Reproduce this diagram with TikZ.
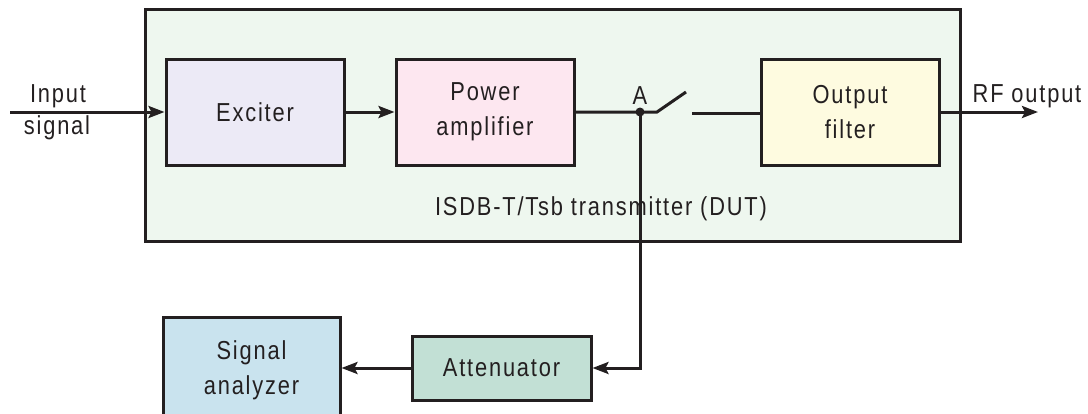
\documentclass[tikz,border=0pt]{standalone}
\usepackage{fontspec}
\setmainfont{Liberation Sans}[FakeStretch=0.84,LetterSpace=7]
\usetikzlibrary{arrows.meta,calc}
\definecolor{ink}{HTML}{231F20}
\definecolor{dutfill}{HTML}{EEF7EF}
\definecolor{excfill}{HTML}{ECEAF6}
\definecolor{pafill}{HTML}{FDE7F0}
\definecolor{offill}{HTML}{FEFBE0}
\definecolor{safill}{HTML}{C9E3EE}
\definecolor{attfill}{HTML}{C2E0D5}
\tikzset{
  blk/.style={draw=ink,line width=3pt,inner sep=0pt,align=center,text=ink,
    font=\fontsize{26}{35}\selectfont},
  lbl/.style={text=ink,inner sep=0pt,anchor=base,font=\fontsize{26}{35}\selectfont},
  wire/.style={draw=ink,line width=3pt},
  arr/.style={wire,-{Stealth[length=16pt,width=12pt,inset=3pt]}},
}
\begin{document}
\begin{tikzpicture}[x=1pt,y=-1pt]
\useasboundingbox (0,0) rectangle (1088,413);
\clip (0,0) rectangle (1088,413);
% outer DUT box
\node[draw=ink,fill=dutfill,line width=3pt,minimum width=815pt,minimum height=232pt,inner sep=0pt] (dut) at (552.5,125) {};
\node[lbl] (dutlbl) at (601,215) {ISDB-T/Tsb transmitter (DUT)};
% blocks
\node[blk,fill=excfill,minimum width=178pt,minimum height=106pt] (exc) at (255,112) {Exciter};
\node[blk,fill=pafill,minimum width=178pt,minimum height=106pt] (pa) at (485,112) {Power\\amplifier};
\node[blk,fill=offill,minimum width=178pt,minimum height=106pt] (of) at (850,112) {Output\\filter};
\node[blk,fill=attfill,minimum width=179pt,minimum height=64pt] (att) at (501.5,368) {Attenuator};
\node[blk,fill=safill,minimum width=177pt,minimum height=106pt] (sa) at (251.5,370) {Signal\\analyzer};
% labels
\node[lbl] (inlbl1) at (58,102) {Input};
\node[lbl] (inlbl2) at (57,134) {signal};
\node[lbl] (rflbl) at (1027,102) {RF output};
\node[lbl] (albl) at (640,104) {A};
% coordinates
\coordinate (inp) at (10,112);
\coordinate (A) at (640,112);
\coordinate (sw1) at (657,112);
\coordinate (sw2) at (686,92);
\coordinate (sw3) at (692,113);
\coordinate (rfout) at (1038,112);
% connectors
\draw[arr] (inp) -- (exc.west);
\draw[arr] (exc.east) -- (pa.west);
\draw[wire] (pa.east) -- (A) -- (sw1) -- (sw2);
\draw[wire] (sw3) -- (sw3 -| of.west);
\draw[arr] (of.east) -- (rfout);
\draw[arr] (A) |- (att.east);
\draw[arr] (att.west) -- (att.west -| sa.east);
\fill[ink] (A) circle (4.5pt);
\end{tikzpicture}
\end{document}
